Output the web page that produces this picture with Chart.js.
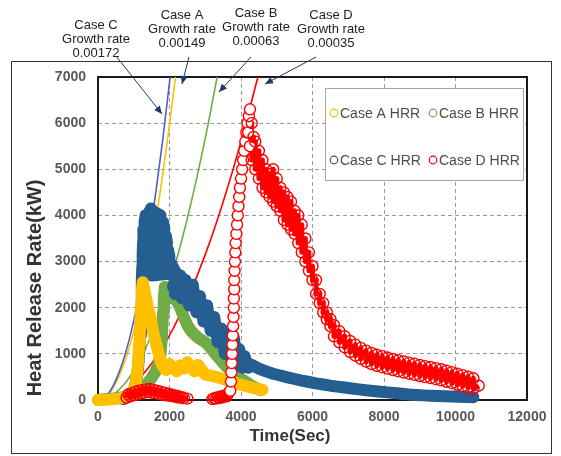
<!DOCTYPE html>
<html>
<head>
<meta charset="utf-8">
<script src="https://cdn.jsdelivr.net/npm/chart.js@4.4.0/dist/chart.umd.min.js"></script>
<style>
  html, body { margin: 0; padding: 0; background: #fff; }
  #c { display: block; }
</style>
</head>
<body>
<canvas id="c" width="561" height="456"></canvas>
<script>
// ---- data: [time (s), HRR (kW)] ----
const hrrLabels = ['Case A HRR', 'Case B HRR', 'Case C HRR', 'Case D HRR'];

const caseA = [[0,0],[300,10],[600,30],[900,100],[1050,300],[1100,600],[1130,900],[1150,1200],[1170,1500],
  [1190,1800],[1210,2100],[1230,2400],[1250,2550],[1280,2450],[1320,2300],[1360,2150],[1400,2000],[1450,1850],
  [1500,1650],[1550,1450],[1600,1300],[1650,1150],[1700,1000],[1750,850],[1800,750],[1900,650],[2000,780],
  [2100,700],[2200,620],[2300,750],[2400,680],[2500,820],[2600,700],[2700,620],[2800,760],[2900,650],[3000,550],
  [3200,520],[3400,480],[3600,430],[3800,380],[4000,330],[4200,290],[4400,250],[4600,220]];

const caseB = [[0,0],[100,10],[200,20],[300,20],[400,30],[500,40],[600,50],[700,60],[800,80],[900,100],[1000,130],
  [1100,170],[1200,220],[1300,300],[1400,380],[1500,480],[1600,600],[1700,800],[1750,1000],[1780,1300],[1800,1600],
  [1820,1900],[1840,2200],[1870,2450],[1920,2350],[2000,2250],[2100,2200],[2200,2150],[2300,2000],[2400,1800],
  [2500,1620],[2600,1500],[2700,1420],[2800,1350],[2900,1300],[3000,1250],[3100,1180],[3200,1080],[3300,980],
  [3400,900],[3500,800],[3600,720],[3700,650],[3800,580],[3900,520],[4000,460],[4100,410],[4200,360],[4300,310],
  [4400,270],[4500,230],[4550,220]];

const caseC = [[700,20],[800,50],[900,100],[1000,200],[1050,350],[1100,550],[1130,800],[1160,1100],[1180,1400],
  [1200,1700],[1210,2000],[1220,2300],[1230,2600],[1240,2900],[1250,3200],[1270,3500],[1290,3700],[1320,3850],
  [1360,3950],[1420,4050],[1480,4150],[1530,4100],
  [1750,4000],[1330,4000],[1300,3850],[1820,3850],[1860,3700],[1280,3700],[1270,3550],[1900,3550],[1930,3400],
  [1260,3400],[1255,3250],[1960,3250],[2000,3100],[1250,3100],[1250,2950],[2050,2950],[2150,2800],[1300,2800],
  [1500,2700],[2200,2750],[2100,2450],[2300,2700],[2150,2300],[2350,2650],[2350,2200],[2450,2600],[2550,2050],
  [2650,2500],[2750,1900],[2850,2250],[2950,1700],[3050,2050],[3150,1500],[3250,1800],[3350,1250],[3450,1550],
  [3550,1000],[3650,1450],[3750,800],[3800,1350],[3900,750],[3950,1100],[4050,700],[4100,950],[4200,700],
  [4300,760],[4500,680],[4700,620],[4900,570],[5100,530],[5300,490],[5500,455],[5700,420],[5900,390],[6100,360],
  [6300,335],[6500,310],[6700,290],[6900,270],[7100,250],[7300,230],[7500,210],[7700,195],[7900,180],[8100,165],
  [8300,150],[8500,135],[8700,120],[8900,110],[9100,100],[9300,92],[9500,85],[9700,80],[9900,75],[10100,70],
  [10300,65],[10500,60]];

const caseDEarly = [[800,50],[850,120],[900,80],[950,150],[1000,100],[1050,180],[1100,120],[1150,200],[1200,140],
  [1250,220],[1300,160],[1350,230],[1400,170],[1450,240],[1500,160],[1550,220],[1600,150],[1650,200],[1700,130],
  [1750,180],[1800,110],[1850,160],[1900,100],[1950,140],[2000,90],[2050,120],[2100,80],[2150,100],[2200,60],
  [2250,80],[2300,50],[2350,60],[2400,40],[2500,30]];

const caseDMain = [[3200,20],[3250,40],[3300,30],[3350,60],[3400,40],[3450,80],[3500,60],[3550,100],[3600,80],
  [3650,150],[3700,200],
  [3720,400],[3730,600],[3740,800],[3750,1000],[3760,1200],[3770,1400],[3780,1600],[3790,1800],[3800,2000],
  [3800,2200],[3810,2400],[3810,2600],[3820,2800],[3830,3000],[3840,3200],[3850,3400],[3870,3600],[3890,3800],
  [3910,4000],[3930,4200],[3950,4400],[3970,4600],[4000,4800],[4030,5000],[4060,5200],[4090,5400],[4120,5600],
  [4150,5800],[4180,6000],[4220,6150],[4250,6300],
  [4200,5800],[4300,6000],[4250,5500],[4350,5700],[4300,5200],[4400,5600],[4400,5000],[4500,5400],[4500,4800],
  [4600,5200],[4600,4600],[4700,5000],[4700,4500],[4800,4900],[4800,4400],[4900,5000],[4900,4300],[5000,4800],
  [5000,4200],[5100,4600],[5100,4100],[5200,4500],[5200,3900],[5300,4400],[5300,3800],[5400,4300],[5400,3700],
  [5500,4100],[5500,3600],[5600,4000],[5600,3400],[5700,3800],[5700,3200],[5800,3500],[5800,3000],[5900,3200],
  [5900,2800],[6000,2900],[6000,2600],[6100,2600],[6100,2300],[6200,2300],[6200,2100],[6300,2100],[6300,1900],
  [6400,1900],[6400,1750],[6500,1750],[6500,1600],
  [6600,1620],[6600,1380],[6750,1490],[6750,1250],[6900,1380],[6900,1140],[7050,1280],[7050,1040],[7200,1200],
  [7200,960],[7350,1130],[7350,890],[7500,1070],[7500,830],[7650,1020],[7650,780],[7800,980],[7800,740],
  [7950,950],[7950,710],[8100,920],[8100,680],[8250,890],[8250,650],[8400,860],[8400,620],[8550,835],[8550,595],
  [8700,810],[8700,570],[8850,785],[8850,545],[9000,760],[9000,520],[9150,735],[9150,495],[9300,715],[9300,475],
  [9450,690],[9450,450],[9600,665],[9600,425],[9750,635],[9750,395],[9900,605],[9900,365],[10050,570],[10050,330],
  [10200,540],[10200,300],[10350,505],[10350,265],[10500,470],[10500,240],[10650,310]];

// growth-rate curves (t-squared fires)
const growthC = [[0,0],[300,150],[600,620],[900,1390],[1200,2480],[1400,3370],[1600,4400],[1800,5570],[2017,7000]];
const growthA = [[0,0],[300,130],[600,540],[900,1210],[1200,2150],[1500,3350],[1800,4830],[2000,5960],[2167,7000]];
const growthB = [[0,0],[500,160],[1000,630],[1500,1420],[2000,2520],[2500,3940],[3000,5670],[3333,7000]];
const growthD = [[0,0],[500,90],[1000,350],[1500,790],[2000,1400],[2500,2190],[3000,3150],[3500,4290],[4000,5600],[4472,7000]];

const growthCases = ['Case C', 'Case A', 'Case B', 'Case D'];
const growthRates = ['0.00172', '0.00149', '0.00063', '0.00035'];

const xTicks = [0, 2000, 4000, 6000, 8000, 10000, 12000];
const yTicks = [0, 1000, 2000, 3000, 4000, 5000, 6000, 7000];
const xTitle = 'Time(Sec)';
const yTitle = 'Heat Release Rate(kW)';

// ---- styles ----
const YEL = '#FFC000', GRN = '#70AD47', BLU = '#255E91', RED = '#FF0000';
const FONT = '"Liberation Sans", Arial, sans-serif';
const pts = a => a.map(([x, y]) => ({ x, y }));

const band = (data, color, w, order) => ({
  data: pts(data), showLine: true, borderColor: color, borderWidth: w,
  borderJoinStyle: 'round', borderCapStyle: 'round', tension: 0,
  pointRadius: 5, pointBackgroundColor: color, pointBorderColor: color, pointBorderWidth: 1,
  clip: false, order
});
const growth = (data, color, order) => ({
  data: pts(data), showLine: true, borderColor: color, borderWidth: 1.6,
  pointRadius: 0, cubicInterpolationMode: 'monotone', order
});

// the rising leg of case D shows white-filled circles, elsewhere the overlap reads as red
const redFill = c => (c.raw && c.raw.x >= 3700 && c.raw.x <= 4250 && c.raw.y > 150) ? '#fff' : 'rgba(255,255,255,0)';

const datasets = [
  Object.assign(band(caseA, YEL, 12, 1), { label: hrrLabels[0] }),
  Object.assign(band(caseB, GRN, 12, 3), { label: hrrLabels[1] }),
  Object.assign(band(caseC, BLU, 12, 2), { label: hrrLabels[2] }),
  { label: hrrLabels[3], data: pts(caseDEarly).concat([{ x: 2850, y: null }], pts(caseDMain)),
    showLine: true, spanGaps: false, borderColor: RED, borderWidth: 5, tension: 0,
    borderJoinStyle: 'round',
    pointRadius: 5.5, pointBackgroundColor: redFill, pointBorderColor: RED, pointBorderWidth: 1.4,
    clip: false, order: 0 },
  growth(growthC, '#4B5FD3', 5),
  growth(growthA, YEL, 6),
  growth(growthB, GRN, 7),
  growth(growthD, RED, 8)
];

// label placement (px) for the growth-rate notes and their arrows
const noteX = [96, 182, 256, 331];
const noteY = [25, 15, 13, 15];
const arrowsPx = [[116,56,162,114],[189,57,182,84],[251,57,219,92],[316,57,265,84]];

function arrow(ctx, x1, y1, x2, y2) {
  ctx.beginPath(); ctx.moveTo(x1, y1); ctx.lineTo(x2, y2); ctx.stroke();
  const a = Math.atan2(y2 - y1, x2 - x1), L = 8, W = 3.5;
  ctx.beginPath(); ctx.moveTo(x2, y2);
  ctx.lineTo(x2 - L*Math.cos(a) + W*Math.sin(a), y2 - L*Math.sin(a) - W*Math.cos(a));
  ctx.lineTo(x2 - L*Math.cos(a) - W*Math.sin(a), y2 - L*Math.sin(a) + W*Math.cos(a));
  ctx.closePath(); ctx.fill();
}

const overlay = {
  id: 'overlay',
  beforeDatasetsDraw(chart) {
    const { ctx, chartArea: a } = chart;
    ctx.save();
    ctx.strokeStyle = '#1a1a1a'; ctx.lineWidth = 2;
    ctx.strokeRect(a.left, a.top, a.right - a.left, a.bottom - a.top);
    ctx.restore();
  },
  afterDraw(chart) {
    const ctx = chart.ctx;
    ctx.save();
    // outer frame
    ctx.strokeStyle = '#333'; ctx.lineWidth = 1;
    ctx.strokeRect(11.5, 61.5, 540, 392);

    // axis titles
    ctx.fillStyle = '#333'; ctx.textAlign = 'center'; ctx.textBaseline = 'middle';
    ctx.font = 'bold 17px ' + FONT;
    ctx.fillText(xTitle, 290, 436);
    ctx.save();
    ctx.translate(35, 288); ctx.rotate(-Math.PI / 2);
    ctx.font = 'bold 20px ' + FONT;
    ctx.fillText(yTitle, 0, 0);
    ctx.restore();

    // growth-rate notes
    ctx.fillStyle = '#222'; ctx.font = '13px ' + FONT;
    growthCases.forEach((c, i) => {
      ctx.fillText(c, noteX[i], noteY[i]);
      ctx.fillText('Growth rate', noteX[i], noteY[i] + 14);
      ctx.fillText(growthRates[i], noteX[i], noteY[i] + 28);
    });
    ctx.strokeStyle = '#203864'; ctx.fillStyle = '#203864'; ctx.lineWidth = 1;
    arrowsPx.forEach(p => arrow(ctx, ...p));

    // legend
    ctx.fillStyle = '#fff'; ctx.strokeStyle = '#a6a6a6';
    ctx.fillRect(325, 88, 198, 92); ctx.strokeRect(325.5, 88.5, 198, 92);
    const cols = [YEL, GRN, BLU, RED];
    ctx.font = '14px ' + FONT; ctx.textAlign = 'left';
    hrrLabels.forEach((lab, i) => {
      const cx = i % 2 ? 433 : 334, cy = i < 2 ? 113 : 160;
      ctx.beginPath(); ctx.arc(cx, cy, 3.8, 0, Math.PI * 2);
      ctx.strokeStyle = cols[i]; ctx.lineWidth = 1.2; ctx.stroke();
      ctx.fillStyle = '#4d4d4d'; ctx.fillText(lab, cx + 6, cy + 1);
    });
    ctx.restore();
  }
};

const tickFont = { family: FONT, size: 14, weight: 'bold' };

new Chart(document.getElementById('c'), {
  type: 'scatter',
  data: { datasets },
  options: {
    responsive: false,
    animation: false,
    events: [],
    layout: { padding: { top: 77, right: 34, bottom: 0, left: 0 } },
    plugins: { legend: { display: false }, tooltip: { enabled: false } },
    scales: {
      x: {
        type: 'linear', min: 0, max: 12000,
        afterFit: s => { s.height = 56; },
        afterBuildTicks: s => { s.ticks = xTicks.map(v => ({ value: v })); },
        ticks: { font: tickFont, color: '#595959', padding: 9, callback: v => String(v) },
        grid: { color: '#9a9a9a', lineWidth: 1, drawTicks: false },
        border: { display: false, dash: [4, 3] }
      },
      y: {
        min: 0, max: 7000,
        afterFit: s => { s.width = 98; },
        afterBuildTicks: s => { s.ticks = yTicks.map(v => ({ value: v })); },
        ticks: { font: tickFont, color: '#595959', padding: 12, callback: v => String(v) },
        grid: { color: '#9a9a9a', lineWidth: 1, drawTicks: false },
        border: { display: false, dash: [4, 3] }
      }
    }
  },
  plugins: [overlay]
});
</script>
</body>
</html>
